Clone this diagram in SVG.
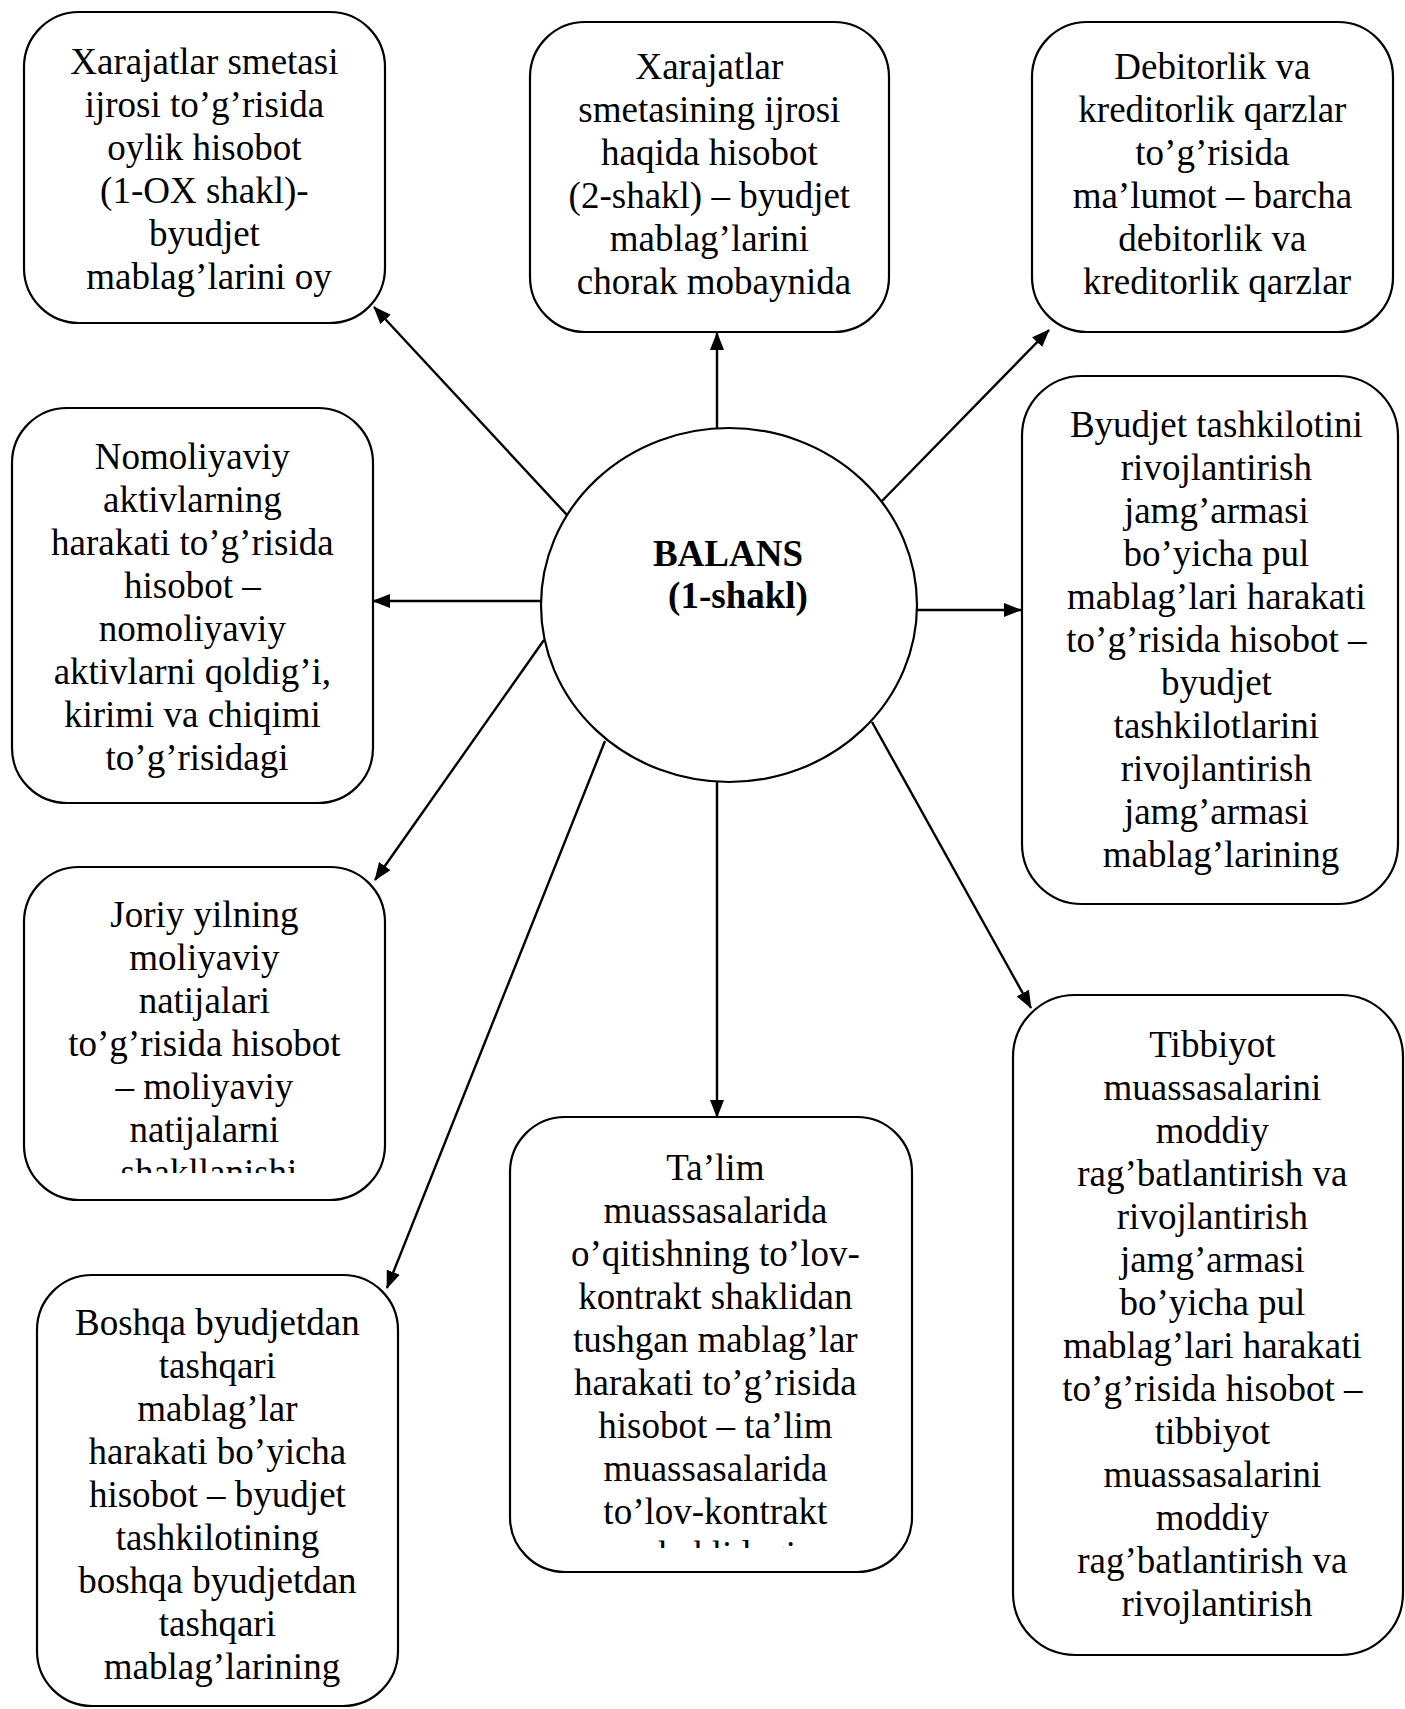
<svg xmlns="http://www.w3.org/2000/svg" width="1405" height="1709" viewBox="0 0 1405 1709">
  <defs>
    <style>
      .box { fill: #ffffff; stroke: #000000; stroke-width: 2.2; }
      .hub { fill: #ffffff; stroke: #000000; stroke-width: 2.2; }
      .t { font-family: "Liberation Serif", "Times New Roman", serif; font-size: 37px; fill: #000000; text-anchor: middle; }
      .tb { font-family: "Liberation Serif", "Times New Roman", serif; font-size: 37px; font-weight: bold; fill: #000000; text-anchor: middle; }
      .edge { stroke: #000000; stroke-width: 2.4; fill: none; marker-end: url(#arrow); }
    </style>
    <marker id="arrow" markerUnits="userSpaceOnUse" markerWidth="18" markerHeight="14" refX="17" refY="7" orient="auto">
      <path d="M0,0 L18,7 L0,14 z" fill="#000000"/>
    </marker>
    <clipPath id="clip-joriy">
      <rect x="24" y="867" width="362" height="306"/>
    </clipPath>
    <clipPath id="clip-talim">
      <rect x="510" y="1117" width="402" height="431"/>
    </clipPath>
  </defs>

  <!-- connectors from the central balance node -->
  <g id="connectors">
    <line class="edge" x1="567" y1="515" x2="374" y2="307"/>
    <line class="edge" x1="717" y1="429" x2="717" y2="333"/>
    <line class="edge" x1="881" y1="502" x2="1049" y2="330"/>
    <line class="edge" x1="541" y1="601" x2="373" y2="601"/>
    <line class="edge" x1="917" y1="610" x2="1021" y2="610"/>
    <line class="edge" x1="544" y1="640" x2="375" y2="880"/>
    <line class="edge" x1="605" y1="741" x2="387" y2="1288"/>
    <line class="edge" x1="717" y1="782" x2="717" y2="1117"/>
    <line class="edge" x1="872" y1="722" x2="1031" y2="1008"/>
  </g>

  <!-- central node -->
  <g id="balans">
    <ellipse class="hub" cx="729" cy="605" rx="188" ry="177"/>
    <text class="tb" x="728" y="566">BALANS</text>
    <text class="tb" x="738" y="608">(1-shakl)</text>
  </g>

  <g id="node-oylik">
    <rect class="box" x="24" y="12" width="361" height="311" rx="55" ry="55"/>
    <text class="t">
      <tspan x="209" y="74">Xarajatlar smetasi</tspan>
      <tspan x="209" dy="43">ijrosi to’g’risida</tspan>
      <tspan x="209" dy="43">oylik hisobot</tspan>
      <tspan x="209" dy="43">(1-OX shakl)-</tspan>
      <tspan x="209" dy="43">byudjet</tspan>
      <tspan x="209" dy="43">mablag’larini oy</tspan>
    </text>
  </g>

  <g id="node-choraklik">
    <rect class="box" x="530" y="22" width="359" height="310" rx="55" ry="55"/>
    <text class="t">
      <tspan x="714" y="79">Xarajatlar</tspan>
      <tspan x="714" dy="43">smetasining ijrosi</tspan>
      <tspan x="714" dy="43">haqida hisobot</tspan>
      <tspan x="714" dy="43">(2-shakl) – byudjet</tspan>
      <tspan x="714" dy="43">mablag’larini</tspan>
      <tspan x="714" dy="43">chorak mobaynida</tspan>
    </text>
  </g>

  <g id="node-debitorlik">
    <rect class="box" x="1032" y="22" width="361" height="310" rx="55" ry="55"/>
    <text class="t">
      <tspan x="1217" y="79">Debitorlik va</tspan>
      <tspan x="1217" dy="43">kreditorlik qarzlar</tspan>
      <tspan x="1217" dy="43">to’g’risida</tspan>
      <tspan x="1217" dy="43">ma’lumot – barcha</tspan>
      <tspan x="1217" dy="43">debitorlik va</tspan>
      <tspan x="1217" dy="43">kreditorlik qarzlar</tspan>
    </text>
  </g>

  <g id="node-nomoliyaviy">
    <rect class="box" x="12" y="408" width="361" height="395" rx="55" ry="55"/>
    <text class="t">
      <tspan x="197" y="469">Nomoliyaviy</tspan>
      <tspan x="197" dy="43">aktivlarning</tspan>
      <tspan x="197" dy="43">harakati to’g’risida</tspan>
      <tspan x="197" dy="43">hisobot –</tspan>
      <tspan x="197" dy="43">nomoliyaviy</tspan>
      <tspan x="197" dy="43">aktivlarni qoldig’i,</tspan>
      <tspan x="197" dy="43">kirimi va chiqimi</tspan>
      <tspan x="197" dy="43">to’g’risidagi</tspan>
    </text>
  </g>

  <g id="node-rivojlantirish">
    <rect class="box" x="1022" y="376" width="376" height="528" rx="60" ry="60"/>
    <text class="t">
      <tspan x="1221" y="437">Byudjet tashkilotini</tspan>
      <tspan x="1221" dy="43">rivojlantirish</tspan>
      <tspan x="1221" dy="43">jamg’armasi</tspan>
      <tspan x="1221" dy="43">bo’yicha pul</tspan>
      <tspan x="1221" dy="43">mablag’lari harakati</tspan>
      <tspan x="1221" dy="43">to’g’risida hisobot –</tspan>
      <tspan x="1221" dy="43">byudjet</tspan>
      <tspan x="1221" dy="43">tashkilotlarini</tspan>
      <tspan x="1221" dy="43">rivojlantirish</tspan>
      <tspan x="1221" dy="43">jamg’armasi</tspan>
      <tspan x="1221" dy="43">mablag’larining</tspan>
    </text>
  </g>

  <g id="node-moliyaviy-natijalar">
    <rect class="box" x="24" y="867" width="361" height="333" rx="55" ry="55"/>
    <g clip-path="url(#clip-joriy)">
      <text class="t">
        <tspan x="209" y="927">Joriy yilning</tspan>
        <tspan x="209" dy="43">moliyaviy</tspan>
        <tspan x="209" dy="43">natijalari</tspan>
        <tspan x="209" dy="43">to’g’risida hisobot</tspan>
        <tspan x="209" dy="43">– moliyaviy</tspan>
        <tspan x="209" dy="43">natijalarni</tspan>
        <tspan x="209" dy="43">shakllanishi</tspan>
      </text>
    </g>
  </g>

  <g id="node-talim">
    <rect class="box" x="510" y="1117" width="402" height="455" rx="55" ry="55"/>
    <g clip-path="url(#clip-talim)">
      <text class="t">
        <tspan x="720" y="1180">Ta’lim</tspan>
        <tspan x="720" dy="43">muassasalarida</tspan>
        <tspan x="720" dy="43">o’qitishning to’lov-</tspan>
        <tspan x="720" dy="43">kontrakt shaklidan</tspan>
        <tspan x="720" dy="43">tushgan mablag’lar</tspan>
        <tspan x="720" dy="43">harakati to’g’risida</tspan>
        <tspan x="720" dy="43">hisobot – ta’lim</tspan>
        <tspan x="720" dy="43">muassasalarida</tspan>
        <tspan x="720" dy="43">to’lov-kontrakt</tspan>
        <tspan x="720" dy="43">shaklidagi</tspan>
      </text>
    </g>
  </g>

  <g id="node-tibbiyot">
    <rect class="box" x="1013" y="995" width="390" height="660" rx="62" ry="62"/>
    <text class="t">
      <tspan x="1217" y="1057">Tibbiyot</tspan>
      <tspan x="1217" dy="43">muassasalarini</tspan>
      <tspan x="1217" dy="43">moddiy</tspan>
      <tspan x="1217" dy="43">rag’batlantirish va</tspan>
      <tspan x="1217" dy="43">rivojlantirish</tspan>
      <tspan x="1217" dy="43">jamg’armasi</tspan>
      <tspan x="1217" dy="43">bo’yicha pul</tspan>
      <tspan x="1217" dy="43">mablag’lari harakati</tspan>
      <tspan x="1217" dy="43">to’g’risida hisobot –</tspan>
      <tspan x="1217" dy="43">tibbiyot</tspan>
      <tspan x="1217" dy="43">muassasalarini</tspan>
      <tspan x="1217" dy="43">moddiy</tspan>
      <tspan x="1217" dy="43">rag’batlantirish va</tspan>
      <tspan x="1217" dy="43">rivojlantirish</tspan>
    </text>
  </g>

  <g id="node-boshqa">
    <rect class="box" x="37" y="1275" width="361" height="431" rx="55" ry="55"/>
    <text class="t">
      <tspan x="222" y="1335">Boshqa byudjetdan</tspan>
      <tspan x="222" dy="43">tashqari</tspan>
      <tspan x="222" dy="43">mablag’lar</tspan>
      <tspan x="222" dy="43">harakati bo’yicha</tspan>
      <tspan x="222" dy="43">hisobot – byudjet</tspan>
      <tspan x="222" dy="43">tashkilotining</tspan>
      <tspan x="222" dy="43">boshqa byudjetdan</tspan>
      <tspan x="222" dy="43">tashqari</tspan>
      <tspan x="222" dy="43">mablag’larining</tspan>
    </text>
  </g>
</svg>
